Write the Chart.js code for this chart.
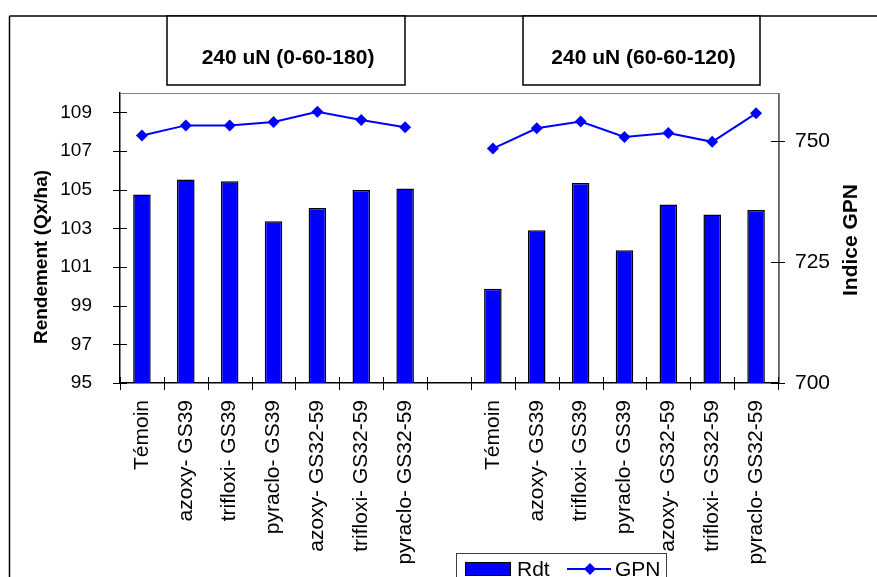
<!DOCTYPE html>
<html>
<head>
<meta charset="utf-8">
<script src="https://cdn.jsdelivr.net/npm/chart.js@4"></script>
<style>
body{margin:0;background:#fff;}
canvas{display:block;}
</style>
</head>
<body>
<canvas id="myChart" width="877" height="577"></canvas>
<script>
const treatments = ["Témoin","azoxy- GS39","trifloxi- GS39","pyraclo- GS39","azoxy- GS32-59","trifloxi- GS32-59","pyraclo- GS32-59"];
const categories = treatments.concat([""], treatments);
const rdt = [104.75,105.52,105.44,103.36,104.05,104.98,105.06,null,99.87,102.9,105.35,101.87,104.23,103.71,103.95];
const gpn = [751.2,753.3,753.3,754.0,756.1,754.4,752.9,null,748.5,752.7,754.1,750.9,751.7,749.9,755.8];
const leftTicks = [95,97,99,101,103,105,107,109];
const rightTicks = [700,725,750];
const groupTitles = ["240 uN (0-60-180)","240 uN (60-60-120)"];

const FONT = "'Liberation Sans', Arial, sans-serif";
Chart.defaults.font.family = FONT;
Chart.defaults.color = "#000";

function line(ctx,x1,y1,x2,y2){
    ctx.beginPath();
    ctx.moveTo(x1,y1);
    ctx.lineTo(x2,y2);
    ctx.stroke();
}

const decor = {
    id: "decor",
    afterDraw(chart){
        const ctx = chart.ctx;
        const a = chart.chartArea;
        const x = chart.scales.x, y = chart.scales.y, y2 = chart.scales.gpn;
        ctx.save();

        // plot frame (top and right, grey)
        ctx.strokeStyle = "#808080";
        ctx.lineWidth = 1;
        line(ctx, a.left, a.top+0.5, a.right+1, a.top+0.5);
        line(ctx, a.right+1.5, a.top, a.right+1.5, a.bottom);

        // crossing tick marks
        ctx.strokeStyle = "#000";
        leftTicks.forEach(v => {
            const py = Math.round(y.getPixelForValue(v))+0.5;
            line(ctx, a.left-7, py, a.left+7, py);
        });
        rightTicks.forEach(v => {
            const py = Math.round(y2.getPixelForValue(v))+0.5;
            line(ctx, a.right-7, py, a.right+7, py);
        });
        for(let i=0;i<=categories.length;i++){
            const px = Math.round(x.getPixelForValue(i-0.5))+0.5;
            line(ctx, px, a.bottom-6, px, a.bottom+7);
        }

        // outer frame
        ctx.lineWidth = 1.5;
        line(ctx, 9.5, 16, 877, 16);
        line(ctx, 9.5, 16, 9.5, 577);

        // group title boxes
        ctx.font = "bold 21px " + FONT;
        ctx.textAlign = "center";
        ctx.textBaseline = "middle";
        [[167,405],[523,760]].forEach((b,i) => {
            ctx.fillStyle = "#fff";
            ctx.fillRect(b[0],16,b[1]-b[0],69);
            ctx.strokeRect(b[0],16,b[1]-b[0],69);
            ctx.fillStyle = "#000";
            ctx.fillText(groupTitles[i], (b[0]+b[1])/2+2, 58);
        });

        // axis titles
        ctx.save();
        ctx.translate(42, 257);
        ctx.rotate(-Math.PI/2);
        ctx.font = "bold 19px " + FONT;
        ctx.fillText("Rendement (Qx/ha)", 0, 0);
        ctx.restore();
        ctx.save();
        ctx.translate(851, 240);
        ctx.rotate(-Math.PI/2);
        ctx.font = "bold 21px " + FONT;
        ctx.fillText("Indice GPN", 0, 0);
        ctx.restore();

        // legend
        ctx.lineWidth = 1;
        ctx.strokeStyle = "#404040";
        ctx.fillStyle = "#fff";
        ctx.fillRect(456.5,553.5,210,40);
        ctx.strokeRect(456.5,553.5,210,40);
        ctx.fillStyle = "#0000ff";
        ctx.strokeStyle = "#000";
        ctx.fillRect(465.5,562.5,45,13);
        ctx.strokeRect(465.5,562.5,45,13);
        ctx.fillStyle = "#000";
        ctx.font = "21px " + FONT;
        ctx.textAlign = "left";
        ctx.fillText("Rdt", 517, 570);
        ctx.strokeStyle = "#0000ff";
        ctx.lineWidth = 2;
        line(ctx, 567, 569, 611, 569);
        ctx.fillStyle = "#0000ff";
        ctx.beginPath();
        ctx.moveTo(584,569); ctx.lineTo(590,563); ctx.lineTo(596,569); ctx.lineTo(590,575);
        ctx.closePath(); ctx.fill();
        ctx.fillStyle = "#000";
        ctx.fillText("GPN", 615, 570);

        ctx.restore();
    }
};

const config = {
    type: "bar",
    data: {
        labels: categories,
        datasets: [
            {
                type: "line",
                label: "GPN",
                data: gpn,
                yAxisID: "gpn",
                borderColor: "#0000ff",
                backgroundColor: "#0000ff",
                borderWidth: 2,
                pointStyle: "rectRot",
                pointRadius: 6,
                pointBorderWidth: 0,
                spanGaps: false,
                order: 0
            },
            {
                label: "Rdt",
                data: rdt,
                yAxisID: "y",
                backgroundColor: "#0000ff",
                borderColor: "#000",
                borderWidth: 1.5,
                categoryPercentage: 1,
                barPercentage: 0.4,
                order: 1
            }
        ]
    },
    options: {
        responsive: false,
        animation: false,
        layout: { padding: { top: 93, left: 0, right: 0, bottom: 0 } },
        plugins: { legend: { display: false }, tooltip: { enabled: false } },
        scales: {
            x: {
                offset: true,
                grid: { display: false, offset: true, tickLength: 8 },
                border: { display: true, color: "#000", width: 1.5 },
                ticks: {
                    autoSkip: false,
                    minRotation: 90,
                    maxRotation: 90,
                    padding: 9,
                    font: { size: 21 }
                },
                afterFit(scale){ scale.height = 194; }
            },
            y: {
                position: "left",
                min: 95,
                max: 110,
                grid: { display: false, tickLength: 8 },
                border: { display: true, color: "#000", width: 1.5 },
                afterBuildTicks(scale){ scale.ticks = leftTicks.map(v => ({value: v})); },
                ticks: { padding: 20, font: { size: 19 } },
                afterFit(scale){ scale.width = 120; }
            },
            gpn: {
                position: "right",
                min: 700,
                max: 760,
                grid: { display: false, tickLength: 8 },
                border: { display: true, color: "#606060", width: 1 },
                afterBuildTicks(scale){ scale.ticks = rightTicks.map(v => ({value: v})); },
                ticks: { padding: 9, font: { size: 21 } },
                afterFit(scale){ scale.width = 99; }
            }
        }
    },
    plugins: [decor]
};

const ctx = document.getElementById("myChart").getContext("2d");
const myChart = new Chart(ctx, config);
</script>
</body>
</html>
